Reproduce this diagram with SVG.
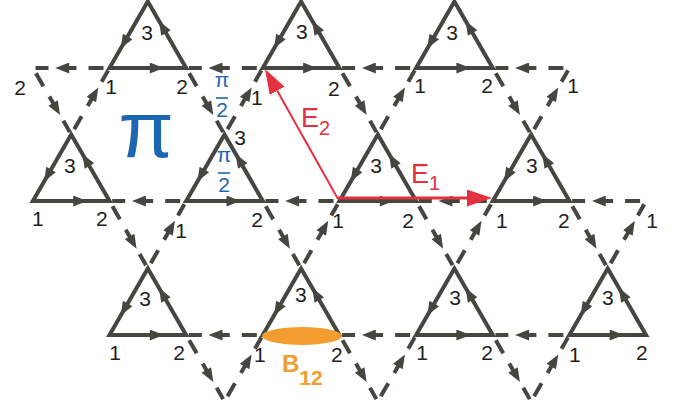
<svg xmlns="http://www.w3.org/2000/svg" xmlns:xlink="http://www.w3.org/1999/xlink" width="688" height="412" viewBox="0 0 688 412">
<defs>
<style>
.tri{fill:none;stroke:#45463f;stroke-width:4;stroke-linejoin:miter;stroke-miterlimit:10}
.car{fill:none;stroke:none;marker-mid:url(#ah)}
.dash{fill:none;stroke:#45463f;stroke-width:4;stroke-dasharray:0 6 15 12 13 15 13 10;marker-mid:url(#ah)}
.lb{font-family:"Liberation Sans",Arial,sans-serif;font-size:21px;fill:#1e1e1e;text-anchor:middle}
.blue{font-family:"Liberation Sans",Arial,sans-serif;fill:#1d66b0;text-anchor:middle}
.bar{stroke:#1d66b0;stroke-width:1.6}
.red{font-family:"Liberation Sans",Arial,sans-serif;fill:#e43140;font-size:27px}
.org{font-family:"Liberation Sans",Arial,sans-serif;fill:#f39c2f;font-weight:bold;font-size:24px}
.vec{fill:none;stroke:#e43140;marker-end:url(#rh)}
</style>
<marker id="ah" viewBox="0 0 16 11" markerWidth="16" markerHeight="11" refX="0" refY="5.5" orient="auto" markerUnits="userSpaceOnUse"><path d="M2,0 L16,5.5 L2,11 z" fill="#45463f"/></marker>
<marker id="rh" viewBox="0 0 25 17" markerWidth="25" markerHeight="17" refX="0" refY="8.5" orient="auto" markerUnits="userSpaceOnUse"><path d="M0,0 L25,8.5 L0,17 z" fill="#e43140"/></marker>
<g id="up"><polygon class="tri" points="0,0 76.65,0 38.3,-66.5"/><path class="car" d="M0,0 L38.3,0 L76.65,0"/><path class="car" d="M76.65,0 L57.5,-33.25 L38.3,-66.5"/><path class="car" d="M38.3,-66.5 L19.15,-33.25 L0,0"/></g>
</defs>

<g id="connectors">
<path class="dash" d="M109.5,68 L71.2,68 L32.9,68"/><path class="dash" d="M32.9,68 L52.05,101.25 L71.2,134.5"/><path class="dash" d="M71.2,134.5 L90.35,101.25 L109.5,68"/>
<path class="dash" d="M262.8,68 L224.5,68 L186.2,68"/><path class="dash" d="M186.2,68 L205.35,101.25 L224.5,134.5"/><path class="dash" d="M224.5,134.5 L243.65,101.25 L262.8,68"/>
<path class="dash" d="M416.1,68 L377.8,68 L339.5,68"/><path class="dash" d="M339.5,68 L358.65,101.25 L377.8,134.5"/><path class="dash" d="M377.8,134.5 L396.95,101.25 L416.1,68"/>
<path class="dash" d="M569.4,68 L531.1,68 L492.8,68"/><path class="dash" d="M492.8,68 L511.95,101.25 L531.1,134.5"/><path class="dash" d="M531.1,134.5 L550.25,101.25 L569.4,68"/>
<path class="dash" d="M186.2,201 L147.85,201 L109.5,201"/><path class="dash" d="M109.5,201 L128.65,234.75 L147.8,268.5"/><path class="dash" d="M147.8,268.5 L167,234.75 L186.2,201"/>
<path class="dash" d="M339.5,201 L301.15,201 L262.8,201"/><path class="dash" d="M262.8,201 L281.95,234.75 L301.1,268.5"/><path class="dash" d="M301.1,268.5 L320.3,234.75 L339.5,201"/>
<path class="dash" d="M492.8,201 L454.45,201 L416.1,201"/><path class="dash" d="M416.1,201 L435.25,234.75 L454.4,268.5"/><path class="dash" d="M454.4,268.5 L473.6,234.75 L492.8,201"/>
<path class="dash" d="M646.1,201 L607.75,201 L569.4,201"/><path class="dash" d="M569.4,201 L588.55,234.75 L607.7,268.5"/><path class="dash" d="M607.7,268.5 L626.9,234.75 L646.1,201"/>
<path class="dash" d="M262.8,335 L224.5,335 L186.2,335"/><path class="dash" d="M186.2,335 L205.35,368.25 L224.5,401.5"/><path class="dash" d="M224.5,401.5 L243.65,368.25 L262.8,335"/>
<path class="dash" d="M416.1,335 L377.8,335 L339.5,335"/><path class="dash" d="M339.5,335 L358.65,368.25 L377.8,401.5"/><path class="dash" d="M377.8,401.5 L396.95,368.25 L416.1,335"/>
<path class="dash" d="M569.4,335 L531.1,335 L492.8,335"/><path class="dash" d="M492.8,335 L511.95,368.25 L531.1,401.5"/><path class="dash" d="M531.1,401.5 L550.25,368.25 L569.4,335"/>
<text class="lb" x="20" y="95">2</text>
<text class="lb" x="573" y="93">1</text>
<text class="lb" x="652" y="228">1</text>
</g>

<g id="t1a" transform="translate(109.5,68)"><use xlink:href="#up" href="#up"/><text class="lb" x="37.5" y="-28">3</text><text class="lb" x="1.5" y="26">1</text><text class="lb" x="72.5" y="26">2</text></g>
<g id="t1b" transform="translate(262.8,68)"><use xlink:href="#up" href="#up"/><text class="lb" x="39" y="-29">3</text><text class="lb" x="-6" y="37">1</text><text class="lb" x="71" y="28">2</text></g>
<g id="t1c" transform="translate(416.1,68)"><use xlink:href="#up" href="#up"/><text class="lb" x="36" y="-28">3</text><text class="lb" x="4" y="25">1</text><text class="lb" x="71" y="25">2</text></g>

<g id="t2a" transform="translate(32.9,201)"><use xlink:href="#up" href="#up"/><text class="lb" x="37" y="-28">3</text><text class="lb" x="5" y="25">1</text><text class="lb" x="69" y="25">2</text></g>
<g id="t2b" transform="translate(186.2,201)"><use xlink:href="#up" href="#up"/><text class="lb" x="54" y="-56">3</text><text class="lb" x="-5" y="37">1</text><text class="lb" x="71" y="26">2</text></g>
<g id="t2c" transform="translate(339.5,201)"><use xlink:href="#up" href="#up"/><text class="lb" x="36.5" y="-28">3</text><text class="lb" x="-1.5" y="27">1</text><text class="lb" x="68.5" y="27">2</text></g>
<g id="t2d" transform="translate(492.8,201)"><use xlink:href="#up" href="#up"/><text class="lb" x="39" y="-28">3</text><text class="lb" x="9" y="27">1</text><text class="lb" x="71" y="27">2</text></g>

<g id="t3a" transform="translate(109.5,335)"><use xlink:href="#up" href="#up"/><text class="lb" x="35.5" y="-29">3</text><text class="lb" x="5.5" y="25">1</text><text class="lb" x="69.5" y="25">2</text></g>
<g id="t3b" transform="translate(262.8,335)"><use xlink:href="#up" href="#up"/><text class="lb" x="38" y="-33">3</text><text class="lb" x="-3" y="27">1</text><text class="lb" x="74" y="27">2</text></g>
<g id="t3c" transform="translate(416.1,335)"><use xlink:href="#up" href="#up"/><text class="lb" x="39" y="-30">3</text><text class="lb" x="6" y="25">1</text><text class="lb" x="71" y="25">2</text></g>
<g id="t3d" transform="translate(569.4,335)"><use xlink:href="#up" href="#up"/><text class="lb" x="38.5" y="-30">3</text><text class="lb" x="5.5" y="27">1</text><text class="lb" x="72.5" y="25">2</text></g>

<g id="flux">
<text class="blue" x="146" y="157" font-size="80" font-family="'Open Sans','Noto Sans',sans-serif">π</text>
<text class="blue" x="222" y="87" font-size="21">π</text><line class="bar" x1="216" y1="98" x2="228" y2="98"/><text class="blue" x="222" y="117" font-size="21">2</text>
<text class="blue" x="224" y="162" font-size="21">π</text><line class="bar" x1="218" y1="173" x2="230" y2="173"/><text class="blue" x="224" y="192" font-size="21">2</text>
</g>

<g id="vectors">
<path class="vec" stroke-width="2" d="M338,199 L277.2,90.8"/>
<path class="vec" stroke-width="3" d="M338,198 L467,198"/>
<text class="red" x="301" y="127">E<tspan font-size="20" dy="8">2</tspan></text>
<text class="red" x="411" y="183">E<tspan font-size="20" dy="7">1</tspan></text>
</g>

<g id="bond">
<ellipse cx="302" cy="336" rx="40" ry="9" fill="#f39c2f"/>
<text class="org" x="282" y="372">B<tspan font-size="21" dy="13">12</tspan></text>
</g>
</svg>
